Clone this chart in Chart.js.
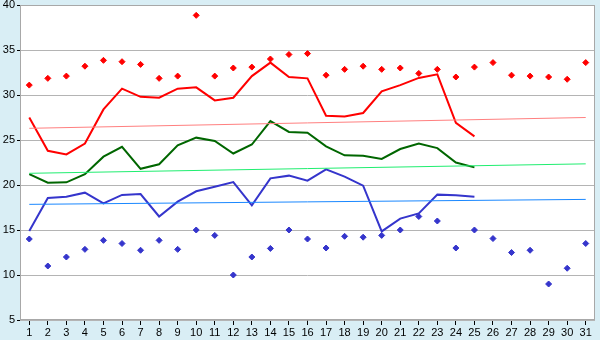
<!DOCTYPE html>
<html>
<head>
<meta charset="utf-8">
<script src="https://cdn.jsdelivr.net/npm/chart.js@4"></script>
<style>
  html, body { margin: 0; padding: 0; background: #d9eef5; }
  #wrap { width: 600px; height: 340px; }
</style>
</head>
<body>
<div id="wrap"><canvas id="tempChart" width="600" height="340"></canvas></div>
<script>
const days = Array.from({ length: 31 }, (_, i) => String(i + 1));

const maxTemp = [27.5, 23.8, 23.4, 24.6, 28.4, 30.7, 29.8, 29.7, 30.7, 30.85,
  29.4, 29.7, 32.1, 33.6, 32.0, 31.85, 27.7, 27.6, 28.0, 30.4,
  31.1, 31.9, 32.3, 26.9, 25.4];
const avgTemp = [21.2, 20.26, 20.3, 21.2, 23.15, 24.25, 21.8, 22.3, 24.4, 25.26,
  24.9, 23.5, 24.5, 27.1, 25.9, 25.8, 24.3, 23.3, 23.26, 22.9,
  24.0, 24.6, 24.1, 22.5, 21.96];
const minTemp = [14.9, 18.55, 18.7, 19.15, 17.96, 18.9, 19.0, 16.5, 18.15, 19.3,
  19.8, 20.33, 17.74, 20.74, 21.04, 20.48, 21.74, 20.93, 19.93, 14.85,
  16.26, 16.85, 18.93, 18.85, 18.7];

const recordMax = [31.1, 31.85, 32.1, 33.2, 33.85, 33.7, 33.4, 31.85, 32.1, 38.85,
  32.1, 33.0, 33.1, 34.0, 34.5, 34.6, 32.2, 32.85, 33.2, 32.85,
  33.0, 32.4, 32.85, 32.0, 33.1, 33.6, 32.2, 32.1, 32.0, 31.75, 33.6];
const recordMin = [14.0, 11.0, 12.0, 12.85, 13.85, 13.5, 12.75, 13.85, 12.85, 15.0,
  14.4, 10.0, 12.0, 12.95, 15.0, 14.0, 13.0, 14.3, 14.2, 14.4,
  15.0, 16.5, 16.0, 13.0, 15.0, 14.05, 12.5, 12.75, 9.0, 10.75, 13.5];

// trend lines, start and end value (day 1 and day 31)
const trendMax = [26.3, 27.5];
const trendAvg = [21.3, 22.35];
const trendMin = [17.85, 18.4];

function trend(ends) {
  return [{ x: days[0], y: ends[0] }, { x: days[days.length - 1], y: ends[1] }];
}

const plotBg = {
  id: 'plotBg',
  beforeDraw(chart) {
    const { ctx, chartArea: a } = chart;
    ctx.save();
    ctx.fillStyle = '#d9eef5';
    ctx.fillRect(0, 0, chart.width, chart.height);
    ctx.fillStyle = '#ffffff';
    ctx.fillRect(a.left, a.top, a.right - a.left, a.bottom - a.top);
    ctx.restore();
  },
  afterDraw(chart) {
    const { ctx, chartArea: a } = chart;
    ctx.save();
    ctx.strokeStyle = '#a8a8a8';
    ctx.lineWidth = 1;
    ctx.strokeRect(a.left + 0.5, a.top + 0.5, a.right - a.left - 1, a.bottom - a.top - 1);
    ctx.restore();
  }
};

const line = (data, color, width) => ({
  type: 'line', data, borderColor: color, backgroundColor: color,
  borderWidth: width, pointRadius: 0, tension: 0, fill: false
});
const dots = (data, color) => ({
  type: 'line', data, showLine: false, borderColor: color, backgroundColor: color,
  pointStyle: 'rectRot', pointRadius: 3, pointBorderWidth: 1
});

const tickFont = { family: 'Liberation Sans', size: 11 };

new Chart(document.getElementById('tempChart'), {
  type: 'line',
  data: {
    labels: days,
    datasets: [
      line(trend(trendMax), '#ff8080', 1),
      line(trend(trendAvg), '#20ee70', 1),
      line(trend(trendMin), '#1a88ff', 1),
      line(maxTemp, '#ff0000', 2),
      line(avgTemp, '#006600', 2),
      line(minTemp, '#3535cc', 2),
      dots(recordMax, '#ff0000'),
      dots(recordMin, '#3535cc')
    ]
  },
  options: {
    responsive: false,
    animation: false,
    layout: { padding: { left: 0, right: 5, top: 5, bottom: 0 } },
    plugins: { legend: { display: false }, tooltip: { enabled: false } },
    scales: {
      x: {
        offset: true,
        grid: { display: true, drawOnChartArea: false, drawTicks: true, offset: false, tickLength: 5, tickColor: '#000' },
        border: { display: false },
        ticks: { color: '#000', font: tickFont, padding: 1, maxRotation: 0, autoSkip: false },
        afterFit: s => { s.height = 20; }
      },
      y: {
        min: 5, max: 40,
        ticks: { stepSize: 5, color: '#000', font: tickFont, padding: 2 },
        grid: { color: '#b4b4b4', tickLength: 3, tickColor: '#000' },
        border: { display: false },
        afterFit: s => { s.width = 20; s.paddingTop = 0; s.paddingBottom = 0; }
      }
    }
  },
  plugins: [plotBg]
});
</script>
</body>
</html>
